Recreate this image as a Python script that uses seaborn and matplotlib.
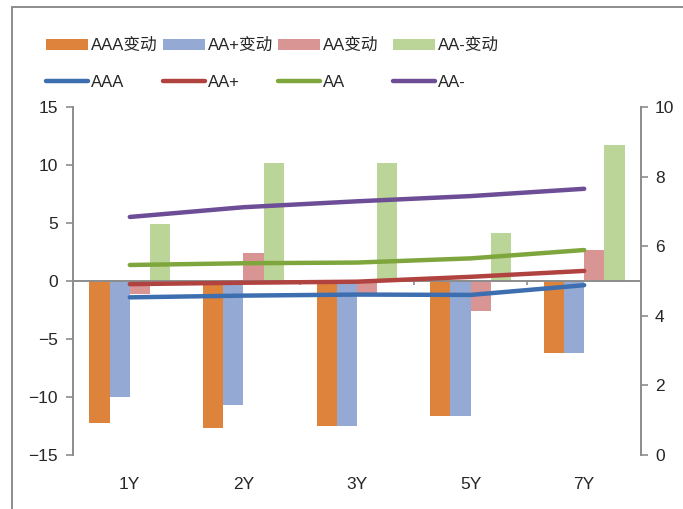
import numpy as np
import pandas as pd
import matplotlib
matplotlib.use("Agg")
import matplotlib.pyplot as plt
import seaborn as sns
from matplotlib.lines import Line2D
from matplotlib.patches import Patch, Rectangle

# Tenors and rating buckets
tenors = ["1Y", "2Y", "3Y", "5Y", "7Y"]

# Spread changes (left axis, bp)
chg_aaa = [-12.2, -12.7, -12.5, -11.6, -6.2]
chg_aap = [-10.0, -10.7, -12.5, -11.6, -6.2]
chg_aa = [-1.1, 2.4, -1.0, -2.6, 2.7]
chg_aam = [4.9, 10.2, 10.2, 4.1, 11.7]

# Yield levels (right axis, %)
lvl_aaa = [4.53, 4.58, 4.61, 4.60, 4.88]
lvl_aap = [4.91, 4.95, 4.98, 5.12, 5.29]
lvl_aa = [5.46, 5.51, 5.53, 5.65, 5.89]
lvl_aam = [6.84, 7.12, 7.29, 7.44, 7.65]

bar_names = ["AAA变动", "AA+变动", "AA变动", "AA-变动"]
line_names = ["AAA", "AA+", "AA", "AA-"]
bar_colors = ["#DE833C", "#94AAD4", "#D99594", "#BBD497"]
line_colors = ["#3D6EAF", "#B04340", "#7EA63D", "#6C4D96"]

sns.set_theme(style="white")
plt.rcParams["font.family"] = ["Liberation Sans", "Noto Sans CJK SC", "DejaVu Sans"]
plt.rcParams["axes.unicode_minus"] = True

grey = "#8C8C8C"
txt = "#262626"

bars = pd.DataFrame({
    "tenor": np.repeat(tenors, 4),
    "series": bar_names * len(tenors),
    "value": np.ravel(np.column_stack([chg_aaa, chg_aap, chg_aa, chg_aam])),
})
pos = np.arange(len(tenors))
lines = pd.DataFrame({
    "pos": np.tile(pos, 4),
    "series": np.repeat(line_names, len(tenors)),
    "value": np.concatenate([lvl_aaa, lvl_aap, lvl_aa, lvl_aam]),
})

W, H = 683, 509
fig = plt.figure(figsize=(W / 100, H / 100), dpi=100)
ax = fig.add_axes([73 / W, 1 - 455 / H, (641 - 73) / W, 348 / H])

sns.barplot(data=bars, x="tenor", y="value", hue="series", order=tenors,
            hue_order=bar_names, palette=bar_colors, width=0.713,
            errorbar=None, edgecolor="none", linewidth=0, saturation=1,
            legend=False, ax=ax)
ax.set_ylim(-15, 15)
ax.set_xlim(-0.5, len(tenors) - 0.5)
ax.set_yticks(np.arange(-15, 16, 5))
ax.set_xlabel("")
ax.set_ylabel("")

# zero line with category separators
ax.axhline(0, color=grey, lw=1.4, zorder=1)
ax.vlines(pos[:-1] + 0.5, -0.38, 0, color=grey, lw=1.2, zorder=1)

ax2 = ax.twinx()
sns.lineplot(data=lines, x="pos", y="value", hue="series", hue_order=line_names,
             palette=line_colors, linewidth=3.2, legend=False, ax=ax2,
             solid_capstyle="round")
ax2.set_ylim(0, 10)
ax2.set_yticks(np.arange(0, 11, 2))
ax2.set_xlim(-0.5, len(tenors) - 0.5)
ax2.set_xlabel("")
ax2.set_ylabel("")

for a in (ax, ax2):
    for s in ("top", "bottom"):
        a.spines[s].set_visible(False)
    a.spines["left"].set_visible(a is ax)
    a.spines["right"].set_visible(a is ax2)
    for s in ("left", "right"):
        a.spines[s].set_color(grey)
        a.spines[s].set_linewidth(1.4)

ax.tick_params(axis="y", left=True, length=5, width=1.2, color=grey,
               labelsize=12.5, labelcolor=txt, pad=6)
ax.tick_params(axis="x", bottom=False, length=0, labelsize=12.5,
               labelcolor=txt, pad=16)
ax2.tick_params(axis="y", right=True, length=5, width=1.2, color=grey,
                labelsize=12.5, labelcolor=txt, pad=5)
ax2.tick_params(axis="x", bottom=False, labelbottom=False)

# legend: four columns, bars on the first row and lines on the second
col_x = [46, 163, 278, 393]
for i in range(4):
    handles = [Patch(facecolor=bar_colors[i], edgecolor="none"),
               Line2D([], [], color=line_colors[i], lw=3.2, solid_capstyle="round")]
    leg = fig.legend(handles, [bar_names[i], line_names[i]],
                     loc="upper left", bbox_to_anchor=(col_x[i] / W, 1 - 38 / H),
                     frameon=False, fontsize=12, handlelength=2.5,
                     handleheight=0.7, handletextpad=0.2, labelspacing=1.32,
                     borderpad=0, borderaxespad=0)
    for t in leg.get_texts():
        t.set_color(txt)

# outer chart border
fig.patches.append(Rectangle((12 / W, -0.1), 1.2, 1 - 7 / H + 0.1,
                             transform=fig.transFigure, fill=False,
                             edgecolor=grey, lw=1.4))

fig.savefig("out.png", dpi=100)
